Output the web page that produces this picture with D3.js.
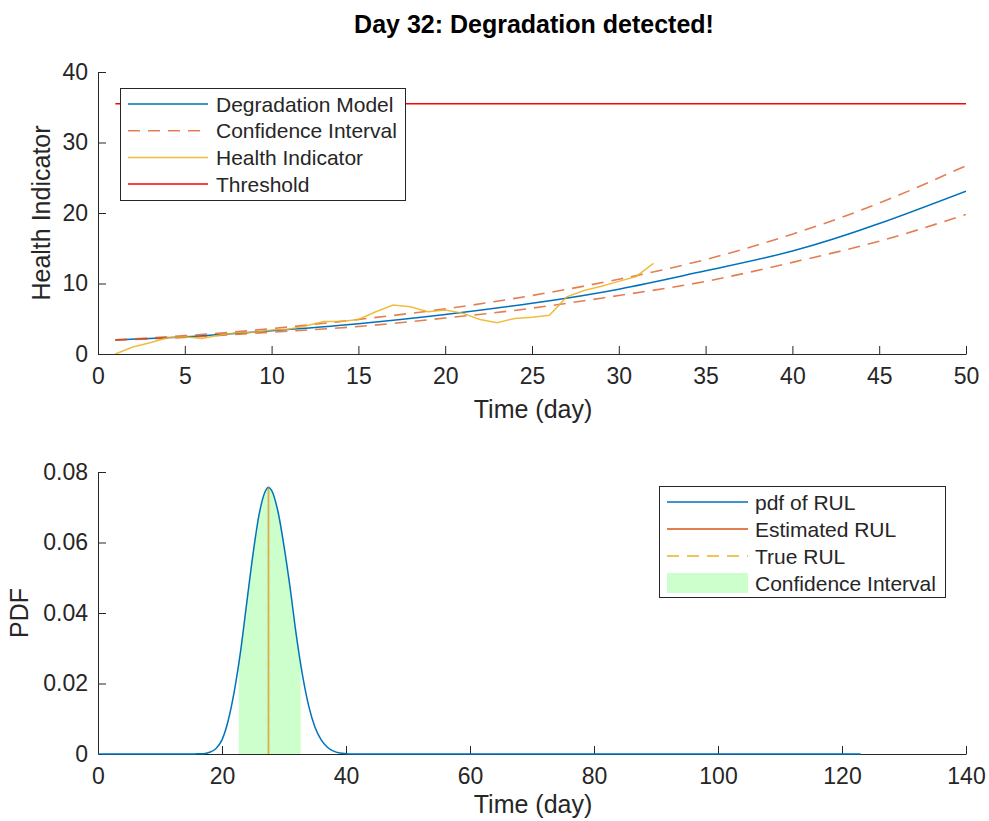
<!DOCTYPE html>
<html><head><meta charset="utf-8">
<script src="https://cdn.jsdelivr.net/npm/d3@7"></script>
<style>body{margin:0;background:#fff;} text{font-family:"Liberation Sans",Arial,sans-serif;fill:#262626;}</style>
</head><body><svg id="c" width="989" height="821"></svg>
<script>
// ---- data (top panel) ----
const modelDays = [1,5,10,15,20,25,30,35,40,45,50];
const modelHI   = [2.0,2.45,3.3,4.3,5.6,7.2,9.2,11.8,14.6,18.5,23.1];
const ciUpper   = [2.0,2.6,3.6,4.9,6.4,8.3,10.6,13.4,17.0,21.4,26.7];
const ciLower   = [2.0,2.35,3.1,3.9,5.1,6.5,8.3,10.3,13.0,16.0,19.8];
const hiDays    = [1,2,3,4,5,6,7,8,9,10,11,12,13,14,15,16,17,18,19,20,21,22,23,24,25,26,27,28,29,30,31,32];
const hiValues  = [0.0,1.0,1.6,2.3,2.45,2.2,2.7,3.0,3.1,3.4,3.5,4.0,4.6,4.6,4.9,6.0,6.95,6.7,6.0,6.25,5.8,4.9,4.45,5.05,5.2,5.5,8.1,9.0,9.6,10.3,11.0,12.85];
const thresholdDays = [1,50];
const thresholdValue = 35.5;
const topXTicks = [0,5,10,15,20,25,30,35,40,45,50];
const topYTicks = [0,10,20,30,40];
// ---- data (bottom panel) ----
const rulTime = [0,5,10,15,16,17,18,19,20,21,22,23,24,25,26,27,27.5,28,29,30,31,32,33,34,35,36,37,38,39,40,41,50,60,80,100,123];
const rulPdf  = [0,0,0,0,0.00005,0.0001,0.0005,0.0015,0.004,0.0095,0.0180,0.0292,0.0430,0.0567,0.0681,0.0746,0.0757,0.0748,0.0690,0.0590,0.0470,0.0335,0.0222,0.0135,0.0076,0.0040,0.0019,0.0008,0.0003,0.0001,0,0,0,0,0,0];
const estimatedRUL = 27.5;
const trueRUL = 27.5;
const ciRange = [22.7,32.7];
const botXTicks = [0,20,40,60,80,100,120,140];
const botYTicks = [0,0.02,0.04,0.06,0.08];

const svg = d3.select("#c");
const axisColor = "#262626";
const C = {blue:"#0072BD", orange:"#D95319", yellow:"#EDB120", red:"#FF0000", green:"#CCFFCC"};

svg.append("text").attr("x",534).attr("y",33).attr("text-anchor","middle")
  .style("font-weight","bold").style("font-size","25px").style("fill","#000").text("Day 32: Degradation detected!");

function drawAxes(g, x, y, xt, yt, yfmt) {
  const xa = g.append("g").attr("transform",`translate(0,${y.range()[0]})`)
    .call(d3.axisBottom(x).tickValues(xt).tickSizeInner(-8).tickSizeOuter(0).tickPadding(14));
  const ya = g.append("g").attr("transform",`translate(${x.range()[0]},0)`)
    .call(d3.axisLeft(y).tickValues(yt).tickSizeInner(-8).tickSizeOuter(0).tickPadding(10).tickFormat(yfmt));
  [xa,ya].forEach(a=>{
    a.selectAll("path,line").attr("stroke",axisColor).attr("stroke-width",1);
    a.selectAll("text").style("font-size","23px").style("fill",axisColor).style("font-family","'Liberation Sans',Arial,sans-serif");
  });
  return [xa,ya];
}

// ---- top panel ----
const x1 = d3.scaleLinear().domain([0,50]).range([98,966]);
const y1 = d3.scaleLinear().domain([0,40]).range([354,72]);
const g1 = svg.append("g");
svg.append("defs").append("clipPath").attr("id","clip1").append("rect")
  .attr("x",98).attr("y",72).attr("width",868).attr("height",282);
const p1 = g1.append("g").attr("clip-path","url(#clip1)");
const lineM = d3.line().x((d,i)=>x1(modelDays[i])).y(d=>y1(d)).curve(d3.curveNatural);
p1.append("path").datum(modelHI).attr("d",lineM).attr("fill","none").attr("stroke",C.blue).attr("stroke-width",1.5);
[ciUpper,ciLower].forEach(arr=>{
  p1.append("path").datum(arr).attr("d",lineM).attr("fill","none").attr("stroke",C.orange)
    .attr("stroke-opacity",0.75).attr("stroke-width",1.6).attr("stroke-dasharray","12,8");
});
p1.append("path").datum(hiValues).attr("d",d3.line().x((d,i)=>x1(hiDays[i])).y(d=>y1(d)))
  .attr("fill","none").attr("stroke",C.yellow).attr("stroke-opacity",0.85).attr("stroke-width",1.5);
p1.append("path").datum(thresholdDays).attr("d",d3.line().x(d=>x1(d)).y(()=>y1(thresholdValue)))
  .attr("fill","none").attr("stroke",C.red).attr("stroke-width",1.5);
drawAxes(g1,x1,y1,topXTicks,topYTicks,d3.format("d"));
g1.append("text").attr("x",533).attr("y",418).attr("text-anchor","middle").style("font-size","25px").text("Time (day)");
g1.append("text").attr("transform","translate(50,213) rotate(-90)").attr("text-anchor","middle").style("font-size","25px").text("Health Indicator");

// legend top
const lg1 = svg.append("g");
lg1.append("rect").attr("x",120.5).attr("y",88.5).attr("width",285).attr("height",112).attr("fill","#fff").attr("stroke",axisColor).attr("stroke-width",1);
const items1 = [
  {t:"Degradation Model", c:C.blue, dash:null},
  {t:"Confidence Interval", c:C.orange, dash:"12,8", op:0.75},
  {t:"Health Indicator", c:C.yellow, dash:null, op:0.85},
  {t:"Threshold", c:C.red, dash:null}];
items1.forEach((it,i)=>{
  const yy = 104 + i*26.7;
  lg1.append("line").attr("x1",128).attr("x2",208).attr("y1",yy).attr("y2",yy).attr("stroke",it.c)
    .attr("stroke-width",1.5).attr("stroke-dasharray",it.dash).attr("stroke-opacity",it.op||1);
  lg1.append("text").attr("x",216).attr("y",yy).attr("dy","0.36em").style("font-size","21px").text(it.t);
});

// ---- bottom panel ----
const x2 = d3.scaleLinear().domain([0,140]).range([98,966]);
const y2 = d3.scaleLinear().domain([0,0.08]).range([754,472]);
const g2 = svg.append("g");
const ciIdx = rulTime.map((t,i)=>i).filter(i=>rulTime[i]>=ciRange[0] && rulTime[i]<=ciRange[1]);
function pdfAt(t){ for(let i=0;i<rulTime.length-1;i++){ if(t>=rulTime[i]&&t<=rulTime[i+1]){ const f=(t-rulTime[i])/(rulTime[i+1]-rulTime[i]); return rulPdf[i]+f*(rulPdf[i+1]-rulPdf[i]); } } return 0; }
const ciPts = [[ciRange[0],pdfAt(ciRange[0])]].concat(ciIdx.map(i=>[rulTime[i],rulPdf[i]])).concat([[ciRange[1],pdfAt(ciRange[1])]]);
g2.append("path").datum(ciPts).attr("d",d3.area().x(d=>x2(d[0])).y0(y2(0)).y1(d=>y2(d[1])).curve(d3.curveMonotoneX))
  .attr("fill",C.green).attr("stroke","none");
drawAxes(g2,x2,y2,botXTicks,botYTicks,d=>d===0?"0":d3.format(".2f")(d));
g2.append("path").datum(rulPdf).attr("d",d3.line().x((d,i)=>x2(rulTime[i])).y(d=>y2(d)).curve(d3.curveMonotoneX))
  .attr("fill","none").attr("stroke",C.blue).attr("stroke-width",1.5);
g2.append("line").attr("x1",x2(estimatedRUL)).attr("x2",x2(estimatedRUL)).attr("y1",y2(0)).attr("y2",y2(pdfAt(estimatedRUL)))
  .attr("stroke",C.orange).attr("stroke-opacity",0.5).attr("stroke-width",1.6);
g2.append("line").attr("x1",x2(trueRUL)).attr("x2",x2(trueRUL)).attr("y1",y2(0)).attr("y2",y2(pdfAt(trueRUL)))
  .attr("stroke",C.yellow).attr("stroke-opacity",0.5).attr("stroke-width",1.6).attr("stroke-dasharray","12,2");
g2.append("text").attr("x",533).attr("y",813).attr("text-anchor","middle").style("font-size","25px").text("Time (day)");
g2.append("text").attr("transform","translate(28,613) rotate(-90)").attr("text-anchor","middle").style("font-size","25px").text("PDF");

// legend bottom
const lg2 = svg.append("g");
lg2.append("rect").attr("x",659.5).attr("y",486.5).attr("width",286).attr("height",111).attr("fill","#fff").attr("stroke",axisColor).attr("stroke-width",1);
const items2 = [
  {t:"pdf of RUL", c:C.blue},
  {t:"Estimated RUL", c:C.orange},
  {t:"True RUL", c:C.yellow, dash:"12,8"},
  {t:"Confidence Interval", c:C.green, patch:true}];
items2.forEach((it,i)=>{
  const yy = 502 + i*27;
  if(it.patch){
    lg2.append("rect").attr("x",667).attr("y",yy-10).attr("width",81).attr("height",20).attr("fill",it.c);
  } else {
    lg2.append("line").attr("x1",667).attr("x2",748).attr("y1",yy).attr("y2",yy).attr("stroke",it.c)
      .attr("stroke-width",1.5).attr("stroke-dasharray",it.dash||null);
  }
  lg2.append("text").attr("x",755).attr("y",yy).attr("dy","0.36em").style("font-size","21px").text(it.t);
});
</script></body></html>
